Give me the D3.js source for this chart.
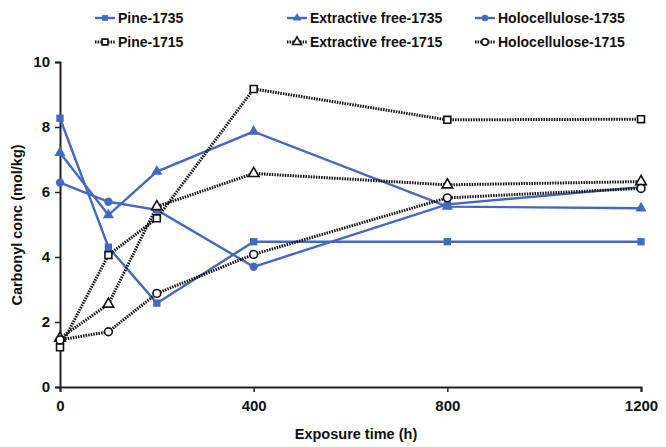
<!DOCTYPE html>
<html>
<head>
<meta charset="utf-8">
<script src="https://cdnjs.cloudflare.com/ajax/libs/d3/7.8.5/d3.min.js"></script>
<style>
    body { margin: 0; background: #fff; }
    svg text { font-family: "Liberation Sans", Arial, sans-serif; font-weight: bold; fill: #111; }
</style>
</head>
<body>
<div id="chartContainer"></div>
<script>
var hours        = [0, 100, 200, 400, 800, 1200],
    xTicks       = [0, 400, 800, 1200],
    yTicks       = [0, 2, 4, 6, 8, 10],
    pine1735     = [8.27, 4.3, 2.58, 4.47, 4.47, 4.47],
    extract1735  = [7.21, 5.29, 6.63, 7.86, 5.55, 5.5],
    holo1735     = [6.29, 5.7, 5.45, 3.7, 5.62, 6.15],
    pine1715     = [1.22, 4.06, 5.19, 9.17, 8.22, 8.24],
    extract1715  = [1.5, 2.55, 5.55, 6.57, 6.22, 6.32],
    holo1715     = [1.45, 1.7, 2.88, 4.08, 5.82, 6.11],
    seriesNames  = ['Pine-1735', 'Extractive free-1735', 'Holocellulose-1735',
                    'Pine-1715', 'Extractive free-1715', 'Holocellulose-1715'];

var width  = 666,
    height = 447,
    BLUE   = '#4468c4',
    svg    = d3.select('#chartContainer').append('svg')
        .attr('width', width)
        .attr('height', height);

var x = d3.scaleLinear().domain([0, 1200]).range([60, 641]),
    y = d3.scaleLinear().domain([0, 10]).range([387, 62]);

// series table built from the arrays above
var series = [
    { name: seriesNames[0], values: pine1735,    shape: 'square',   dotted: false },
    { name: seriesNames[1], values: extract1735, shape: 'triangle', dotted: false },
    { name: seriesNames[2], values: holo1735,    shape: 'circle',   dotted: false },
    { name: seriesNames[3], values: pine1715,    shape: 'square',   dotted: true },
    { name: seriesNames[4], values: extract1715, shape: 'triangle', dotted: true },
    { name: seriesNames[5], values: holo1715,    shape: 'circle',   dotted: true }
];

function symbolFor(shape) {
    if (shape === 'square') return d3.symbolSquare;
    if (shape === 'triangle') return d3.symbolTriangle;
    return d3.symbolCircle;
}

function styleLine(sel, s) {
    sel.attr('fill', 'none')
        .attr('stroke', s.dotted ? '#111' : BLUE)
        .attr('stroke-width', s.dotted ? 3 : 2.4)
        .attr('stroke-dasharray', s.dotted ? '1.5,1.1' : null);
}

function styleMarker(sel, s, size) {
    sel.attr('d', d3.symbol().type(symbolFor(s.shape)).size(size || (s.dotted ? 48 : 54)))
        .attr('fill', s.dotted ? '#fff' : BLUE)
        .attr('stroke', s.dotted ? '#111' : 'none')
        .attr('stroke-width', 1.6);
}

// axes
var xAxis = d3.axisBottom(x).tickValues(xTicks).tickFormat(d3.format('d')).tickSize(5).tickPadding(8),
    yAxis = d3.axisLeft(y).tickValues(yTicks).tickSize(5).tickPadding(5);

var gx = svg.append('g').attr('transform', 'translate(0,' + y(0) + ')').call(xAxis);
var gy = svg.append('g').attr('transform', 'translate(' + x(0) + ',0)').call(yAxis);
[gx, gy].forEach(function(g) {
    g.select('.domain').attr('stroke', '#222').attr('stroke-width', 2);
    g.selectAll('.tick line').attr('stroke', '#222').attr('stroke-width', 1.5);
    g.selectAll('.tick text')
        .style('font-family', '"Liberation Sans", Arial, sans-serif')
        .style('font-weight', 'bold')
        .style('font-size', '15px')
        .attr('fill', '#111');
});

svg.append('text')
    .attr('x', 356)
    .attr('y', 439)
    .attr('text-anchor', 'middle')
    .style('font-size', '14.5px')
    .text('Exposure time (h)');

svg.append('text')
    .attr('transform', 'translate(22,225) rotate(-90)')
    .attr('text-anchor', 'middle')
    .style('font-size', '14.5px')
    .text('Carbonyl conc (mol/kg)');

// lines then markers
var line = d3.line()
    .x(function(d, i) { return x(hours[i]); })
    .y(function(d) { return y(d); });

series.forEach(function(s) {
    svg.append('path').datum(s.values).attr('d', line).call(styleLine, s);
});
series.forEach(function(s) {
    svg.append('g').selectAll('path')
        .data(s.values)
        .enter()
        .append('path')
        .attr('transform', function(d, i) { return 'translate(' + x(hours[i]) + ',' + y(d) + ')'; })
        .call(styleMarker, s);
});

// legend, 3 columns x 2 rows
var legendCols = [95, 287, 475],
    legendRows = [18, 42];
series.forEach(function(s, i) {
    var lx = legendCols[i % 3],
        ly = legendRows[Math.floor(i / 3)],
        g  = svg.append('g').attr('transform', 'translate(' + lx + ',' + ly + ')');
    g.append('path')
        .attr('d', 'M0,0H20')
        .call(styleLine, s);
    g.append('path')
        .attr('transform', 'translate(10,0)')
        .call(styleMarker, s, 34);
    g.append('text')
        .attr('x', 23)
        .attr('y', 5)
        .style('font-size', '14px')
        .text(s.name);
});
</script>
</body>
</html>
